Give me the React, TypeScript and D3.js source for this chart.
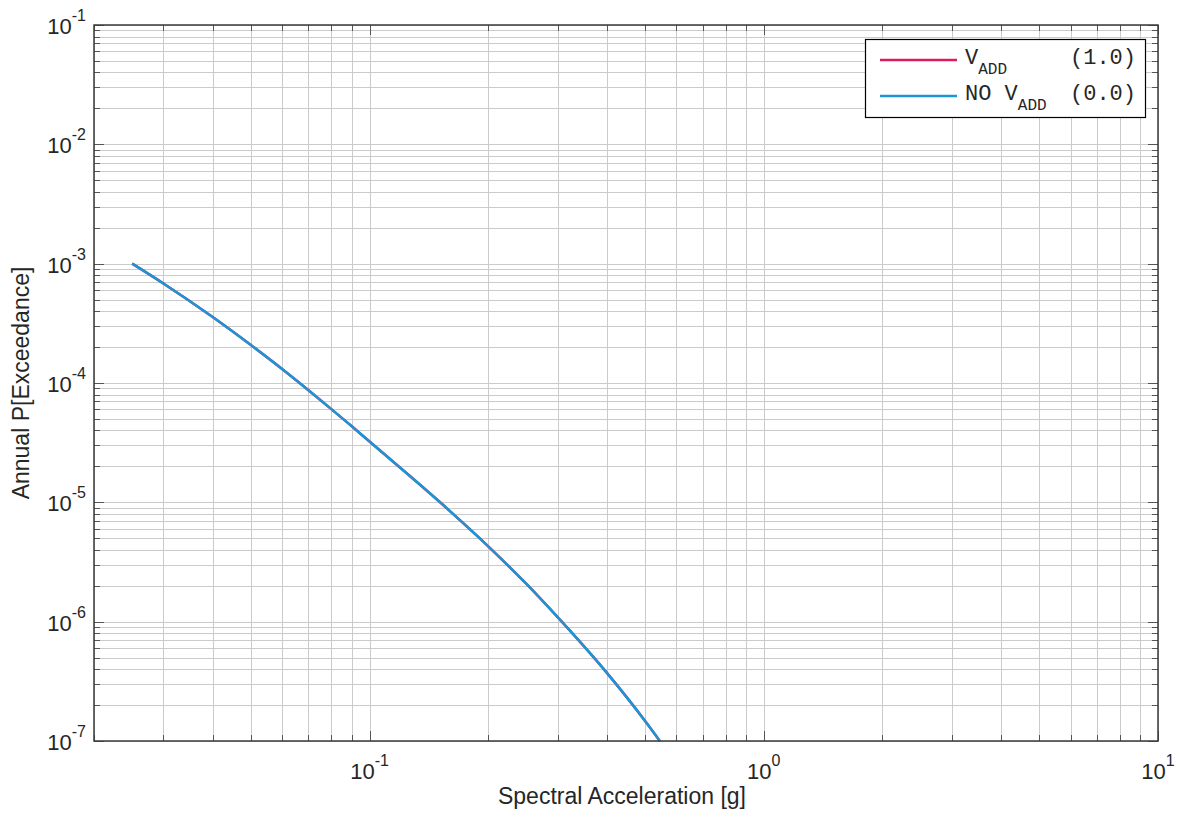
import React from "react";
import * as d3 from "d3";

const spectralAcc = [0.025, 0.03, 0.04, 0.05, 0.06, 0.07, 0.08, 0.09, 0.1, 0.15, 0.2, 0.25, 0.3, 0.4, 0.5, 0.545];
const pVadd = [1.0e-3, 6.82e-4, 3.57e-4, 2.08e-4, 1.31e-4, 8.7e-5, 6.04e-5, 4.36e-5, 3.23e-5, 1.02e-5, 4.28e-6, 2.07e-6, 1.09e-6, 3.72e-7, 1.47e-7, 1.0e-7];
const pNoVadd = [1.0e-3, 6.82e-4, 3.57e-4, 2.08e-4, 1.31e-4, 8.7e-5, 6.04e-5, 4.36e-5, 3.23e-5, 1.02e-5, 4.28e-6, 2.07e-6, 1.09e-6, 3.72e-7, 1.47e-7, 1.0e-7];
const xTickExps = [-1, 0, 1];
const yTickExps = [-7, -6, -5, -4, -3, -2, -1];
const seriesNames = ["V", "NO V"];
const seriesWeights = ["(1.0)", "(0.0)"];
const seriesColors = ["#e01a5c", "#1a95d6"];

const W = 1186, H = 814;
const L = 94, R = 1158, T = 25, B = 741;

export default function App() {
  const x = d3.scaleLog().domain([0.02, 10]).range([L, R]);
  const y = d3.scaleLog().domain([1e-7, 1e-1]).range([B, T]);

  const xMinor: number[] = [];
  for (let e = -2; e <= 0; e++) for (let k = 1; k <= 9; k++) {
    const v = k * Math.pow(10, e);
    if (v >= 0.02 && v <= 10) xMinor.push(v);
  }
  if (!xMinor.includes(10)) xMinor.push(10);
  const yMinor: number[] = [];
  for (let e = -7; e <= -2; e++) for (let k = 1; k <= 9; k++) {
    const v = k * Math.pow(10, e);
    if (v >= 1e-7 && v <= 1e-1) yMinor.push(v);
  }
  yMinor.push(1e-1);

  const line = d3.line<[number, number]>()
    .x(d => x(d[0]))
    .y(d => y(d[1]))
    .curve(d3.curveMonotoneX);

  const data = [pVadd, pNoVadd].map(s => spectralAcc.map((a, i) => [a, s[i]] as [number, number]));

  const axisColor = "#3a3a3a";
  const gridColor = "#cbcbcb";
  const textColor = "#262626";
  const sans = "'Liberation Sans', Arial, Helvetica, sans-serif";
  const mono = "'Liberation Mono', 'Courier New', monospace";

  const isMajor = (v: number) => Math.abs(Math.log10(v) - Math.round(Math.log10(v))) < 1e-9;

  return (
    <svg width={W} height={H} style={{ position: "absolute", left: 0, top: 0, background: "#fff" }}>
      <rect x={0} y={0} width={W} height={H} fill="#fff" />
      {/* grid */}
      <g stroke={gridColor} strokeWidth={1}>
        {xMinor.map((v, i) => (
          <line key={"gx" + i} x1={Math.round(x(v)) + 0.5} x2={Math.round(x(v)) + 0.5} y1={T} y2={B} />
        ))}
        {yMinor.map((v, i) => (
          <line key={"gy" + i} x1={L} x2={R} y1={Math.round(y(v)) + 0.5} y2={Math.round(y(v)) + 0.5} />
        ))}
      </g>
      {/* ticks */}
      <g stroke="#555" strokeWidth={1}>
        {xMinor.map((v, i) => {
          const len = isMajor(v) ? 10 : 6;
          const px = Math.round(x(v)) + 0.5;
          return (
            <g key={"tx" + i}>
              <line x1={px} x2={px} y1={B} y2={B - len} />
              <line x1={px} x2={px} y1={T} y2={T + len} />
            </g>
          );
        })}
        {yMinor.map((v, i) => {
          const len = isMajor(v) ? 10 : 6;
          const py = Math.round(y(v)) + 0.5;
          return (
            <g key={"ty" + i}>
              <line x1={L} x2={L + len} y1={py} y2={py} />
              <line x1={R} x2={R - len} y1={py} y2={py} />
            </g>
          );
        })}
      </g>
      {/* curves */}
      {data.map((d, i) => (
        <path key={"c" + i} d={line(d) || ""} fill="none" stroke={seriesColors[i]} strokeWidth={2.5} strokeLinejoin="round" />
      ))}
      {/* axes box */}
      <rect x={L} y={T} width={R - L} height={B - T} fill="none" stroke={axisColor} strokeWidth={1.5} />
      {/* tick labels */}
      <g fill={textColor} fontFamily={sans} fontSize={22}>
        {xTickExps.map(e => (
          <text key={"xl" + e} x={x(Math.pow(10, e))} y={779} textAnchor="middle">
            10<tspan dy={-13} fontSize={16}>{e}</tspan>
          </text>
        ))}
        {yTickExps.map(e => (
          <text key={"yl" + e} x={86} y={y(Math.pow(10, e)) + 9} textAnchor="end">
            10<tspan dy={-13} fontSize={16}>{e}</tspan>
          </text>
        ))}
      </g>
      {/* axis titles */}
      <text x={(L + R) / 2 - 4} y={804} textAnchor="middle" fill={textColor} fontFamily={sans} fontSize={23}>
        Spectral Acceleration [g]
      </text>
      <text transform={`translate(29,${(T + B) / 2}) rotate(-90)`} textAnchor="middle" fill={textColor} fontFamily={sans} fontSize={23}>
        Annual P[Exceedance]
      </text>
      {/* legend */}
      <g>
        <rect x={865.5} y={39.5} width={280} height={78} fill="#fff" stroke="#000" strokeWidth={1.2} />
        {seriesNames.map((name, i) => {
          const ly = 60 + i * 36;
          const nameW = name.length * 13.2;
          return (
            <g key={"lg" + i}>
              <line x1={880} x2={957} y1={ly} y2={ly} stroke={seriesColors[i]} strokeWidth={2.5} />
              <text x={965} y={ly + 4} fill={textColor} fontFamily={mono} fontSize={22}>{name}</text>
              <text x={965 + nameW} y={ly + 14} fill={textColor} fontFamily={mono} fontSize={16}>ADD</text>
              <text x={1070} y={ly + 4} fill={textColor} fontFamily={mono} fontSize={22}>{seriesWeights[i]}</text>
            </g>
          );
        })}
      </g>
    </svg>
  );
}
